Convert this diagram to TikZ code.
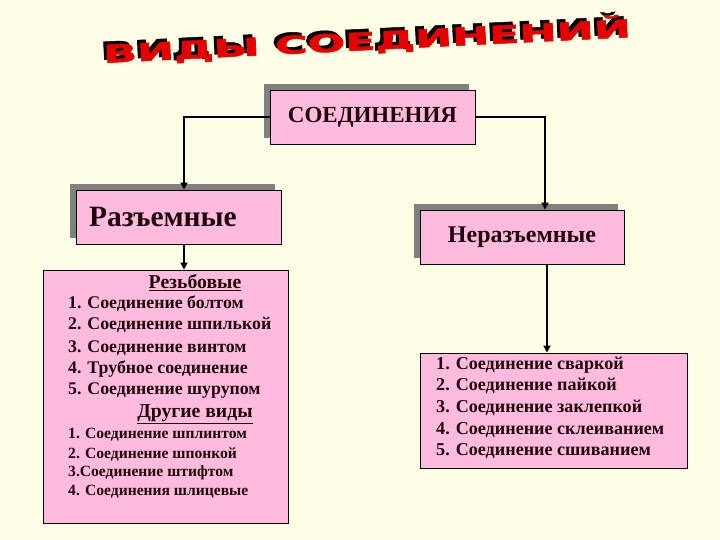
\documentclass[tikz,border=0pt]{standalone}
\usepackage{fontspec}
\usepackage{graphicx}
\setmainfont{Liberation Serif}
\newfontfamily\titlefont[FakeBold=2]{DejaVu Sans Bold}
\usetikzlibrary{arrows.meta,shadows}
\definecolor{bgcream}{RGB}{255,255,229}
\definecolor{boxpink}{RGB}{255,187,221}
\definecolor{shadowgray}{RGB}{128,128,128}
\definecolor{txtdark}{RGB}{30,5,10}
\definecolor{titlered}{RGB}{230,0,0}
\newcommand{\titletext}{ВИДЫ СОЕДИНЕНИЙ}
\tikzset{
  pinkbox/.style={draw=black, line width=0.8pt, fill=boxpink, inner sep=0pt},
  shadowbox/.style={pinkbox, general shadow={fill=shadowgray, shadow xshift=-6pt, shadow yshift=6pt}},
  conn/.style={line width=2.2pt, black},
  arr/.style={conn, -{Triangle[length=7pt,width=7pt]}},
  head/.style={text=txtdark},
  item/.style={anchor=west, font=\bfseries\fontsize{17.8}{20}\selectfont, text=txtdark, inner sep=0pt},
  ritem/.style={item, font=\bfseries\fontsize{18.1}{20}\selectfont},
  smallitem/.style={anchor=west, font=\bfseries\fontsize{15.6}{18}\selectfont, text=txtdark, inner sep=0pt},
  sub/.style={font=\bfseries\fontsize{19.7}{22}\selectfont, text=txtdark, inner sep=0pt}
}
\begin{document}
\begin{tikzpicture}[x=1pt,y=-1pt]
\fill[bgcream] (0,0) rectangle (720,540);
\useasboundingbox (0,0) rectangle (720,540);
% title: red lettering with a black copy behind it, up and to the left
\node[rotate=2.8, inner sep=0pt] (title) at (367,39) {\resizebox{528pt}{26pt}{\titlefont
  \makebox[0pt][l]{\raisebox{1.3pt}{\kern-0.7pt\color{black}\titletext}}\color{titlered}\titletext}};
% boxes
\node[shadowbox, minimum width=205pt, minimum height=54pt, head, font=\bfseries\fontsize{23}{26}\selectfont] (top) at (372.5,117) {СОЕДИНЕНИЯ};
\node[shadowbox, minimum width=205pt, minimum height=54pt] (raz) at (178.5,217) {};
\node[head, font=\bfseries\fontsize{29.5}{32}\selectfont, inner sep=0pt] (raztext) at (163,217) {Разъемные};
\node[shadowbox, minimum width=204pt, minimum height=54pt, head, font=\bfseries\fontsize{24}{27}\selectfont] (nraz) at (522,237) {Неразъемные};
\node[pinkbox, minimum width=245pt, minimum height=253pt] (lst) at (165.5,396.5) {};
\node[pinkbox, minimum width=267pt, minimum height=115pt] (rlst) at (553.5,410.5) {};
% connectors
\draw[arr] (top.west) -| ([xshift=5.5pt]raz.north);
\draw[arr] (top.east) -| ([xshift=23pt]nraz.north);
\draw[arr] ([xshift=5.5pt]raz.south) -- ([xshift=5.5pt]raz.south |- lst.north);
\draw[arr] ([xshift=25pt]nraz.south) -- ([xshift=25pt]nraz.south |- rlst.north);
% left list
\node[sub] (rezb) at (195,283) {\underline{Резьбовые}};
\node[item] (l1) at (68,304) {1. Соединение болтом};
\node[item] (l2) at (68,325) {2. Соединение шпилькой};
\node[item] (l3) at (68,348) {3. Соединение винтом};
\node[item] (l4) at (68,369) {4. Трубное соединение};
\node[item] (l5) at (68,391) {5. Соединение шурупом};
\node[sub] (drug) at (195,414) {\underline{Другие виды}};
\node[smallitem] (s1) at (68,435) {1. Соединение шплинтом};
\node[smallitem] (s2) at (68,454) {2. Соединение шпонкой};
\node[smallitem] (s3) at (68,473) {3.Соединение штифтом};
\node[smallitem] (s4) at (68,492) {4. Соединения шлицевые};
% right list
\node[ritem] (r1) at (436,365) {1. Соединение сваркой};
\node[ritem] (r2) at (436,386) {2. Соединение пайкой};
\node[ritem] (r3) at (436,408) {3. Соединение заклепкой};
\node[ritem] (r4) at (436,430) {4. Соединение склеиванием};
\node[ritem] (r5) at (436,451) {5. Соединение сшиванием};
\end{tikzpicture}
\end{document}
